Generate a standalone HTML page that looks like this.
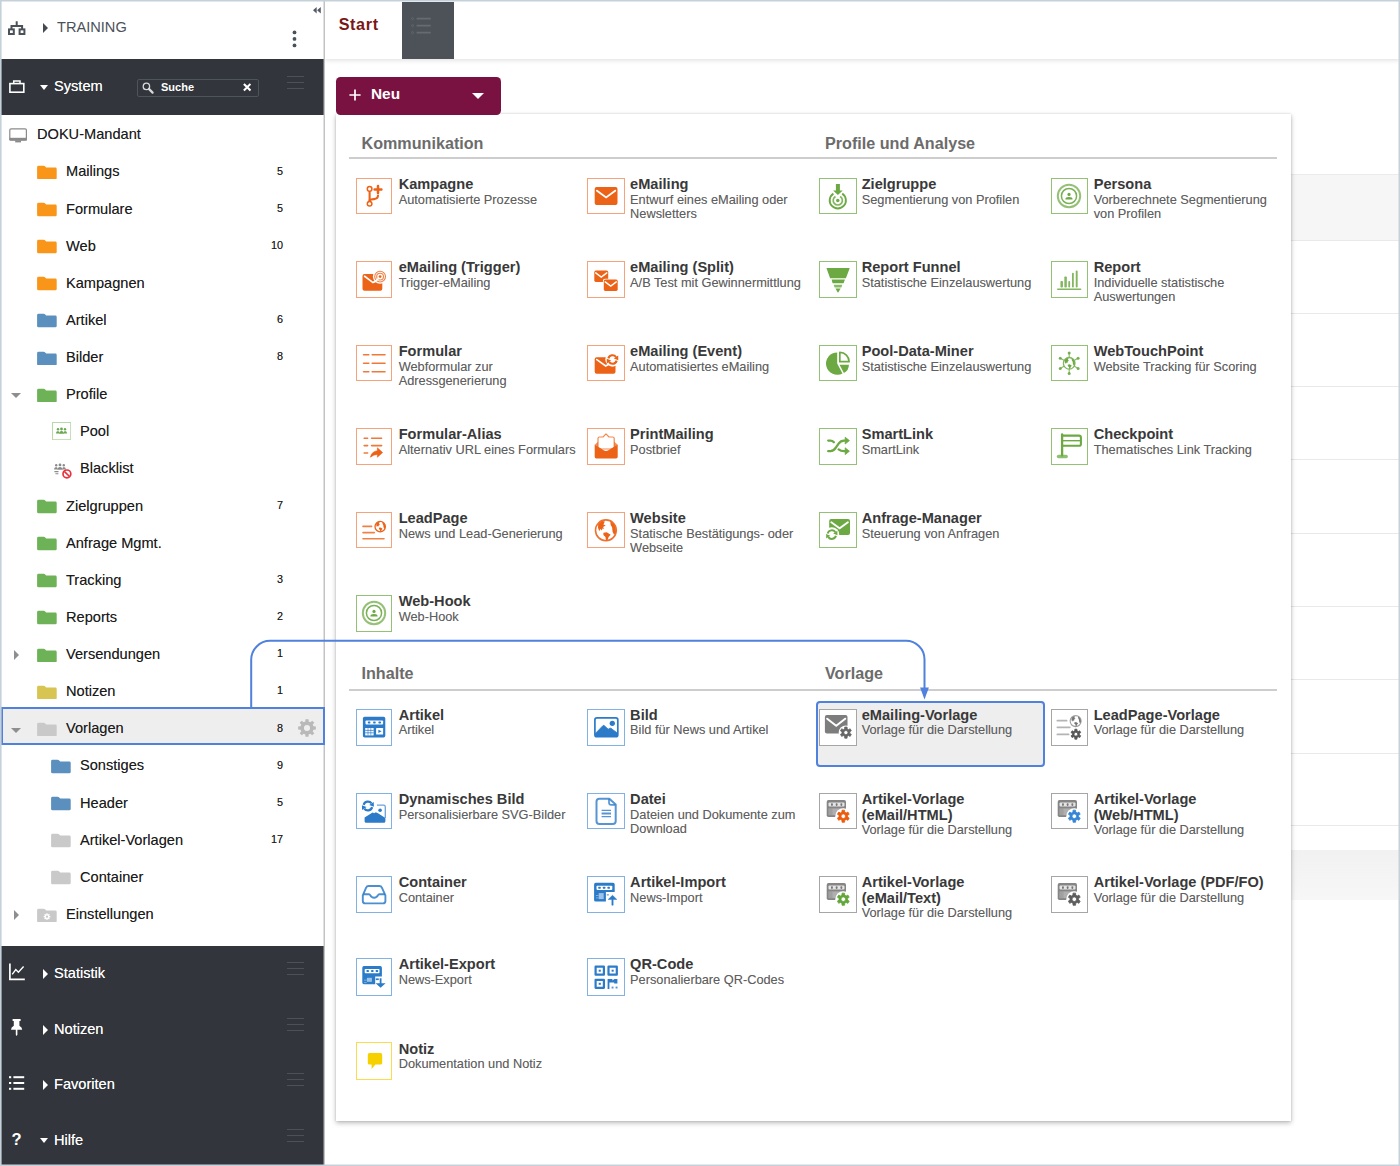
<!DOCTYPE html><html lang="de"><head><meta charset="utf-8"><title>Start</title><style>
*{box-sizing:border-box;margin:0;padding:0}
html,body{width:1400px;height:1166px;overflow:hidden;background:#fff}
body{font-family:"Liberation Sans",Arial,Helvetica,sans-serif;position:relative;color:#222}
.abs{position:absolute}
#frame{position:absolute;left:0;top:0;width:1400px;height:1166px;border:1.5px solid #c6d2da;z-index:50;pointer-events:none}
#side{position:absolute;left:0;top:0;width:324px;height:1166px;background:#fff}
#sideline{position:absolute;left:323.4px;top:0;width:1.5px;height:1166px;background:#c3c3c3}
.dark{position:absolute;left:0;width:323.5px;background:#32353b}
.dk{position:absolute;color:#fff;font-size:14.6px;line-height:18px;white-space:nowrap;text-shadow:0 0 .6px rgba(255,255,255,.75)}
.tr{position:absolute;font-size:14.6px;line-height:18px;color:#1c1c1c;white-space:nowrap;text-shadow:0 0 .4px rgba(0,0,0,.45)}
.cnt{position:absolute;width:40px;text-align:right;font-size:10.8px;line-height:14px;color:#1c1c1c;text-shadow:0 0 .4px rgba(0,0,0,.5)}
.ham{position:absolute;width:17px;height:13px}
.ham i{position:absolute;left:0;width:17px;height:1.5px;background:#4c5158}
#tabbar{position:absolute;left:325px;top:0;width:1075px;height:59.2px;background:#fff;box-shadow:0 1px 5px rgba(0,0,0,.14)}
#start{position:absolute;left:338.7px;top:12.8px;font-size:16.2px;font-weight:bold;color:#7a1616;line-height:22px;letter-spacing:.62px}
#tab2{position:absolute;left:402.2px;top:1.6px;width:51.8px;height:57.3px;background:#4c5258}
#neu{position:absolute;left:335.8px;top:76.8px;width:164.9px;height:37.8px;background:#7a1241;border-radius:4.5px;color:#fff}
#panel{position:absolute;left:336px;top:114px;width:955.4px;height:1007.4px;background:#fff;box-shadow:0 2px 5px rgba(0,0,0,.27),0 0 2px rgba(0,0,0,.14)}
.h{position:absolute;font-size:16.15px;font-weight:bold;color:#6c6c6c;line-height:20px;white-space:nowrap}
.hr{position:absolute;height:1.6px;background:#cdcdcd}
.ib{position:absolute;height:36.8px;border:1.1px solid;background:#fff}
.ib svg{position:absolute;top:.3px;width:34px;height:34px}
.t{position:absolute;white-space:nowrap}
.t b{display:block;font-size:14.6px;line-height:15.55px;color:#393939;font-weight:bold}
.t span{display:block;font-size:12.78px;line-height:14.4px;color:#606060;text-shadow:0 0 .5px rgba(60,60,60,.35)}
.row{position:absolute;left:1291px;width:107.5px}
</style></head><body>
<div class="row" style="top:174px;height:66.5px;background:#f6f6f6;border-top:1px solid #ebebeb;border-bottom:1px solid #e9e9e9"></div>
<div class="row" style="top:312.5px;height:1px;background:#e9e9e9"></div>
<div class="row" style="top:385.5px;height:1px;background:#e9e9e9"></div>
<div class="row" style="top:458.5px;height:1px;background:#e9e9e9"></div>
<div class="row" style="top:532.5px;height:1px;background:#e9e9e9"></div>
<div class="row" style="top:605.5px;height:1px;background:#e9e9e9"></div>
<div class="row" style="top:678.5px;height:1px;background:#e9e9e9"></div>
<div class="row" style="top:752.5px;height:1px;background:#e9e9e9"></div>
<div class="row" style="top:824.5px;height:1px;background:#e9e9e9"></div>
<div class="row" style="top:850px;height:50px;background:linear-gradient(#f1f1f1,#f7f7f7)"></div>
<div id="tabbar"></div><div id="start">Start</div><div id="tab2"><svg class="abs" style="left:8.6px;top:15.4px;" width="21" height="18" viewBox="0 0 21 18"><g stroke="#656b71" stroke-width="1.6" fill="none"><path d="M5.6 1.6H19.8M5.6 8.6H19.8M5.6 15.6H19.8"/></g><g fill="none" stroke="#656b71" stroke-width=".8"><circle cx="1.5" cy="1.6" r="1"/><circle cx="1.5" cy="8.6" r="1"/><circle cx="1.5" cy="15.6" r="1"/></g></svg></div>
<div id="side"></div>
<svg class="abs" style="left:8px;top:21px;" width="18" height="14.5" viewBox="0 0 18 14.5"><g fill="none" stroke="#4b5159" stroke-width="2"><path d="M8.7 .2V4.9M3.5 8.4V4.9H14.1V8.4"/><rect x="1" y="8.4" width="4.8" height="4.6"/><rect x="11.6" y="8.4" width="4.8" height="4.6"/></g></svg>
<div class="abs" style="left:42.5px;top:22.5px;width:0;height:0;border-left:5.5px solid #444a52;border-top:5px solid transparent;border-bottom:5px solid transparent"></div>
<div class="abs" style="left:57px;top:18.4px;font-size:14.6px;line-height:18px;color:#4b5159;white-space:nowrap">TRAINING</div>
<svg class="abs" style="left:313px;top:7px;" width="8.2" height="6.6" viewBox="0 0 8.2 6.6"><path d="M3.7 0V6.6L0 3.3ZM7.8 0V6.6L4.1 3.3Z" fill="#555b63"/></svg>
<svg class="abs" style="left:292.2px;top:30.2px;" width="5" height="18" viewBox="0 0 5 18"><g fill="#4b5159"><circle cx="2.5" cy="2.4" r="1.9"/><circle cx="2.5" cy="8.9" r="1.9"/><circle cx="2.5" cy="15.4" r="1.9"/></g></svg>
<div class="dark" style="top:59px;height:55.5px"></div>
<svg class="abs" style="left:9px;top:79.5px;" width="16" height="14" viewBox="0 0 16 14"><g fill="none" stroke="#fff" stroke-width="1.6"><rect x=".9" y="3.6" width="13.9" height="8.6"/><path d="M4.7 3.6V.9H11V3.6" stroke-width="1.5"/></g></svg>
<div class="abs" style="left:40px;top:85px;width:0;height:0;border-top:5px solid #fff;border-left:4.6px solid transparent;border-right:4.6px solid transparent"></div>
<div class="dk" style="left:54px;top:77.4px">System</div>
<div class="abs" style="left:137px;top:79px;width:121.5px;height:17.5px;border:1px solid #4e545b;border-radius:2px"></div>
<svg class="abs" style="left:142px;top:82px;" width="13" height="13" viewBox="0 0 13 13"><g fill="none" stroke="#d7d9db"><circle cx="4.4" cy="4.4" r="3.2" stroke-width="1.3"/><path d="M6.9 6.9L10.6 10.6" stroke-width="2.2" stroke-linecap="round"/></g></svg>
<div class="abs" style="left:161px;top:79.9px;font-size:11px;font-weight:bold;color:#fff;line-height:14px">Suche</div>
<svg class="abs" style="left:242.8px;top:83.2px;" width="8.4" height="8.4" viewBox="0 0 8.4 8.4"><path d="M.9 .9L7.5 7.5M7.5 .9L.9 7.5" stroke="#fff" stroke-width="2.1" fill="none"/></svg>
<div class="ham" style="left:287px;top:75.8px"><i style="top:0"></i><i style="top:6px"></i><i style="top:12px"></i></div>
<svg class="abs" style="left:9px;top:126.5px;" width="19" height="17" viewBox="0 0 19 17"><g><rect x=".8" y="1.8" width="16.6" height="11.4" rx="1.3" fill="#fff" stroke="#8b8b8b" stroke-width="1.2"/><rect x=".3" y="10.8" width="17.7" height="2.6" fill="#8b8b8b"/><rect x="6.2" y="13.4" width="5.8" height="2" fill="#8b8b8b"/></g></svg>
<div class="tr" style="left:37px;top:125.0px">DOKU-Mandant</div>
<div class="abs" style="left:1px;top:707.2px;width:324px;height:37.6px;background:#eeeeee"></div>
<svg class="abs" style="left:37.2px;top:164.93px;" width="20" height="14.5" viewBox="0 0 20 14.5"><path d="M1.5 .8H6.6Q7.6 .8 8.2 1.6L9.2 2.6H18.3Q19.7 2.6 19.7 4V12.9Q19.7 14.3 18.3 14.3H1.5Q.1 14.3 .1 12.9V2.2Q.1 .8 1.5 .8Z" fill="#f9961a"/></svg>
<div class="tr" style="left:66px;top:162.3px">Mailings</div>
<div class="cnt" style="left:243px;top:163.5px">5</div>
<svg class="abs" style="left:37.2px;top:202.06px;" width="20" height="14.5" viewBox="0 0 20 14.5"><path d="M1.5 .8H6.6Q7.6 .8 8.2 1.6L9.2 2.6H18.3Q19.7 2.6 19.7 4V12.9Q19.7 14.3 18.3 14.3H1.5Q.1 14.3 .1 12.9V2.2Q.1 .8 1.5 .8Z" fill="#f9961a"/></svg>
<div class="tr" style="left:66px;top:199.5px">Formulare</div>
<div class="cnt" style="left:243px;top:200.7px">5</div>
<svg class="abs" style="left:37.2px;top:239.19px;" width="20" height="14.5" viewBox="0 0 20 14.5"><path d="M1.5 .8H6.6Q7.6 .8 8.2 1.6L9.2 2.6H18.3Q19.7 2.6 19.7 4V12.9Q19.7 14.3 18.3 14.3H1.5Q.1 14.3 .1 12.9V2.2Q.1 .8 1.5 .8Z" fill="#f9961a"/></svg>
<div class="tr" style="left:66px;top:236.6px">Web</div>
<div class="cnt" style="left:243px;top:237.8px">10</div>
<svg class="abs" style="left:37.2px;top:276.32px;" width="20" height="14.5" viewBox="0 0 20 14.5"><path d="M1.5 .8H6.6Q7.6 .8 8.2 1.6L9.2 2.6H18.3Q19.7 2.6 19.7 4V12.9Q19.7 14.3 18.3 14.3H1.5Q.1 14.3 .1 12.9V2.2Q.1 .8 1.5 .8Z" fill="#f9961a"/></svg>
<div class="tr" style="left:66px;top:273.7px">Kampagnen</div>
<svg class="abs" style="left:37.2px;top:313.45px;" width="20" height="14.5" viewBox="0 0 20 14.5"><path d="M1.5 .8H6.6Q7.6 .8 8.2 1.6L9.2 2.6H18.3Q19.7 2.6 19.7 4V12.9Q19.7 14.3 18.3 14.3H1.5Q.1 14.3 .1 12.9V2.2Q.1 .8 1.5 .8Z" fill="#5b8fbe"/></svg>
<div class="tr" style="left:66px;top:310.8px">Artikel</div>
<div class="cnt" style="left:243px;top:312.0px">6</div>
<svg class="abs" style="left:37.2px;top:350.58px;" width="20" height="14.5" viewBox="0 0 20 14.5"><path d="M1.5 .8H6.6Q7.6 .8 8.2 1.6L9.2 2.6H18.3Q19.7 2.6 19.7 4V12.9Q19.7 14.3 18.3 14.3H1.5Q.1 14.3 .1 12.9V2.2Q.1 .8 1.5 .8Z" fill="#5b8fbe"/></svg>
<div class="tr" style="left:66px;top:348.0px">Bilder</div>
<div class="cnt" style="left:243px;top:349.2px">8</div>
<svg class="abs" style="left:37.2px;top:387.71px;" width="20" height="14.5" viewBox="0 0 20 14.5"><path d="M1.5 .8H6.6Q7.6 .8 8.2 1.6L9.2 2.6H18.3Q19.7 2.6 19.7 4V12.9Q19.7 14.3 18.3 14.3H1.5Q.1 14.3 .1 12.9V2.2Q.1 .8 1.5 .8Z" fill="#6eb257"/></svg>
<div class="tr" style="left:66px;top:385.1px">Profile</div>
<div class="abs" style="left:10.5px;top:393.3px;width:0;height:0;border-top:5.2px solid #8e8e8e;border-left:5px solid transparent;border-right:5px solid transparent"></div>
<svg class="abs" style="left:51.9px;top:422.44px;" width="19" height="18" viewBox="0 0 19 18"><rect x=".5" y=".5" width="18.2" height="17.2" fill="#fff" stroke="#b9d9a9" stroke-width="1"/><g fill="#6aa84f"><circle cx="6" cy="7.3" r="1.2"/><circle cx="9.5" cy="7" r="1.4"/><circle cx="13" cy="7.3" r="1.2"/><path d="M3.9 11.6Q3.9 9 6 9Q7.4 9 7.4 11.6ZM7.2 11.8Q7.2 8.9 9.5 8.9Q11.8 8.9 11.8 11.8ZM11.6 11.6Q11.6 9 13 9Q15.1 9 15.1 11.6Z"/></g></svg>
<div class="tr" style="left:80px;top:422.2px">Pool</div>
<svg class="abs" style="left:53px;top:461.57px;" width="19" height="17" viewBox="0 0 19 17"><g fill="#8a8a8a"><circle cx="3.2" cy="3.2" r="1.2"/><circle cx="7" cy="2.9" r="1.4"/><circle cx="10.8" cy="3.2" r="1.2"/><path d="M1 7.6Q1 5 3.2 5Q4.8 5 4.8 7.6ZM4.6 7.8Q4.6 4.9 7 4.9Q9.4 4.9 9.4 7.8ZM9.2 7.6Q9.2 5 10.8 5Q13 5 13 7.6Z"/><path d="M1.4 9H5.5V10.2H1.4ZM2.4 11.2H5.4V12.3H2.4Z"/></g><circle cx="13.9" cy="11.9" r="3.9" fill="#fff" stroke="#e8333f" stroke-width="1.7"/><path d="M11.3 9.3L16.5 14.5" stroke="#e8333f" stroke-width="1.7"/></svg>
<div class="tr" style="left:80px;top:459.4px">Blacklist</div>
<svg class="abs" style="left:37.2px;top:499.1px;" width="20" height="14.5" viewBox="0 0 20 14.5"><path d="M1.5 .8H6.6Q7.6 .8 8.2 1.6L9.2 2.6H18.3Q19.7 2.6 19.7 4V12.9Q19.7 14.3 18.3 14.3H1.5Q.1 14.3 .1 12.9V2.2Q.1 .8 1.5 .8Z" fill="#6eb257"/></svg>
<div class="tr" style="left:66px;top:496.5px">Zielgruppen</div>
<div class="cnt" style="left:243px;top:497.7px">7</div>
<svg class="abs" style="left:37.2px;top:536.23px;" width="20" height="14.5" viewBox="0 0 20 14.5"><path d="M1.5 .8H6.6Q7.6 .8 8.2 1.6L9.2 2.6H18.3Q19.7 2.6 19.7 4V12.9Q19.7 14.3 18.3 14.3H1.5Q.1 14.3 .1 12.9V2.2Q.1 .8 1.5 .8Z" fill="#6eb257"/></svg>
<div class="tr" style="left:66px;top:533.6px">Anfrage Mgmt.</div>
<svg class="abs" style="left:37.2px;top:573.36px;" width="20" height="14.5" viewBox="0 0 20 14.5"><path d="M1.5 .8H6.6Q7.6 .8 8.2 1.6L9.2 2.6H18.3Q19.7 2.6 19.7 4V12.9Q19.7 14.3 18.3 14.3H1.5Q.1 14.3 .1 12.9V2.2Q.1 .8 1.5 .8Z" fill="#6eb257"/></svg>
<div class="tr" style="left:66px;top:570.8px">Tracking</div>
<div class="cnt" style="left:243px;top:572.0px">3</div>
<svg class="abs" style="left:37.2px;top:610.49px;" width="20" height="14.5" viewBox="0 0 20 14.5"><path d="M1.5 .8H6.6Q7.6 .8 8.2 1.6L9.2 2.6H18.3Q19.7 2.6 19.7 4V12.9Q19.7 14.3 18.3 14.3H1.5Q.1 14.3 .1 12.9V2.2Q.1 .8 1.5 .8Z" fill="#6eb257"/></svg>
<div class="tr" style="left:66px;top:607.9px">Reports</div>
<div class="cnt" style="left:243px;top:609.1px">2</div>
<svg class="abs" style="left:37.2px;top:647.62px;" width="20" height="14.5" viewBox="0 0 20 14.5"><path d="M1.5 .8H6.6Q7.6 .8 8.2 1.6L9.2 2.6H18.3Q19.7 2.6 19.7 4V12.9Q19.7 14.3 18.3 14.3H1.5Q.1 14.3 .1 12.9V2.2Q.1 .8 1.5 .8Z" fill="#6eb257"/></svg>
<div class="tr" style="left:66px;top:645.0px">Versendungen</div>
<div class="cnt" style="left:243px;top:646.2px">1</div>
<div class="abs" style="left:13.5px;top:649.6px;width:0;height:0;border-left:5.2px solid #8e8e8e;border-top:5px solid transparent;border-bottom:5px solid transparent"></div>
<svg class="abs" style="left:37.2px;top:684.75px;" width="20" height="14.5" viewBox="0 0 20 14.5"><path d="M1.5 .8H6.6Q7.6 .8 8.2 1.6L9.2 2.6H18.3Q19.7 2.6 19.7 4V12.9Q19.7 14.3 18.3 14.3H1.5Q.1 14.3 .1 12.9V2.2Q.1 .8 1.5 .8Z" fill="#d8c450"/></svg>
<div class="tr" style="left:66px;top:682.2px">Notizen</div>
<div class="cnt" style="left:243px;top:683.4px">1</div>
<svg class="abs" style="left:37.2px;top:721.88px;" width="20" height="14.5" viewBox="0 0 20 14.5"><path d="M1.5 .8H6.6Q7.6 .8 8.2 1.6L9.2 2.6H18.3Q19.7 2.6 19.7 4V12.9Q19.7 14.3 18.3 14.3H1.5Q.1 14.3 .1 12.9V2.2Q.1 .8 1.5 .8Z" fill="#c9c9c9"/></svg>
<div class="tr" style="left:66px;top:719.3px">Vorlagen</div>
<div class="cnt" style="left:243px;top:720.5px">8</div>
<div class="abs" style="left:10.5px;top:727.5px;width:0;height:0;border-top:5.2px solid #8e8e8e;border-left:5px solid transparent;border-right:5px solid transparent"></div>
<svg class="abs" style="left:51.2px;top:759.01px;" width="20" height="14.5" viewBox="0 0 20 14.5"><path d="M1.5 .8H6.6Q7.6 .8 8.2 1.6L9.2 2.6H18.3Q19.7 2.6 19.7 4V12.9Q19.7 14.3 18.3 14.3H1.5Q.1 14.3 .1 12.9V2.2Q.1 .8 1.5 .8Z" fill="#5b8fbe"/></svg>
<div class="tr" style="left:80px;top:756.4px">Sonstiges</div>
<div class="cnt" style="left:243px;top:757.6px">9</div>
<svg class="abs" style="left:51.2px;top:796.14px;" width="20" height="14.5" viewBox="0 0 20 14.5"><path d="M1.5 .8H6.6Q7.6 .8 8.2 1.6L9.2 2.6H18.3Q19.7 2.6 19.7 4V12.9Q19.7 14.3 18.3 14.3H1.5Q.1 14.3 .1 12.9V2.2Q.1 .8 1.5 .8Z" fill="#5b8fbe"/></svg>
<div class="tr" style="left:80px;top:793.5px">Header</div>
<div class="cnt" style="left:243px;top:794.7px">5</div>
<svg class="abs" style="left:51.2px;top:833.27px;" width="20" height="14.5" viewBox="0 0 20 14.5"><path d="M1.5 .8H6.6Q7.6 .8 8.2 1.6L9.2 2.6H18.3Q19.7 2.6 19.7 4V12.9Q19.7 14.3 18.3 14.3H1.5Q.1 14.3 .1 12.9V2.2Q.1 .8 1.5 .8Z" fill="#c9c9c9"/></svg>
<div class="tr" style="left:80px;top:830.7px">Artikel-Vorlagen</div>
<div class="cnt" style="left:243px;top:831.9px">17</div>
<svg class="abs" style="left:51.2px;top:870.4px;" width="20" height="14.5" viewBox="0 0 20 14.5"><path d="M1.5 .8H6.6Q7.6 .8 8.2 1.6L9.2 2.6H18.3Q19.7 2.6 19.7 4V12.9Q19.7 14.3 18.3 14.3H1.5Q.1 14.3 .1 12.9V2.2Q.1 .8 1.5 .8Z" fill="#c9c9c9"/></svg>
<div class="tr" style="left:80px;top:867.8px">Container</div>
<svg class="abs" style="left:37.2px;top:907.53px;" width="20" height="14.5" viewBox="0 0 20 14.5"><path d="M1.5 .8H6.6Q7.6 .8 8.2 1.6L9.2 2.6H18.3Q19.7 2.6 19.7 4V12.9Q19.7 14.3 18.3 14.3H1.5Q.1 14.3 .1 12.9V2.2Q.1 .8 1.5 .8Z" fill="#c9c9c9"/><path fill-rule="evenodd" fill="#fff" d="M13.35 8.02 L13.35 9.18 L12.42 9.22 L12.15 9.87 L12.78 10.56 L11.96 11.38 L11.27 10.75 L10.62 11.02 L10.58 11.95 L9.42 11.95 L9.38 11.02 L8.73 10.75 L8.04 11.38 L7.22 10.56 L7.85 9.87 L7.58 9.22 L6.65 9.18 L6.65 8.02 L7.58 7.98 L7.85 7.33 L7.22 6.64 L8.04 5.82 L8.73 6.45 L9.38 6.18 L9.42 5.25 L10.58 5.25 L10.62 6.18 L11.27 6.45 L11.96 5.82 L12.78 6.64 L12.15 7.33 L12.42 7.98 Z M8.80 8.60 a1.20 1.20 0 1 0 2.40 0 a1.20 1.20 0 1 0 -2.40 0 Z"/></svg>
<div class="tr" style="left:66px;top:904.9px">Einstellungen</div>
<div class="abs" style="left:13.5px;top:909.5px;width:0;height:0;border-left:5.2px solid #8e8e8e;border-top:5px solid transparent;border-bottom:5px solid transparent"></div>
<svg class="abs" style="left:298px;top:719px;" width="18" height="18" viewBox="0 0 18 18"><path fill-rule="evenodd" fill="#b9b9b9" d="M17.87 7.45 L17.87 10.55 L15.45 10.66 L14.73 12.39 L16.36 14.18 L14.18 16.36 L12.39 14.73 L10.66 15.45 L10.55 17.87 L7.45 17.87 L7.34 15.45 L5.61 14.73 L3.82 16.36 L1.64 14.18 L3.27 12.39 L2.55 10.66 L0.13 10.55 L0.13 7.45 L2.55 7.34 L3.27 5.61 L1.64 3.82 L3.82 1.64 L5.61 3.27 L7.34 2.55 L7.45 0.13 L10.55 0.13 L10.66 2.55 L12.39 3.27 L14.18 1.64 L16.36 3.82 L14.73 5.61 L15.45 7.34 Z M5.94 9.00 a3.06 3.06 0 1 0 6.12 0 a3.06 3.06 0 1 0 -6.12 0 Z"/></svg>
<div class="dark" style="top:945.5px;height:221px"></div>
<div class="dk" style="left:54px;top:963.5px">Statistik</div>
<div class="abs" style="left:42.5px;top:968.5px;width:0;height:0;border-left:5.5px solid #fff;border-top:5px solid transparent;border-bottom:5px solid transparent"></div>
<svg class="abs" style="left:8px;top:963px;" width="18" height="18" viewBox="0 0 18 18"><g fill="none" stroke="#fff" stroke-width="1.7"><path d="M1.9 .5V16.4H16.8"/><path d="M4.2 11.4L7.8 6.6L10.4 9.2L15.6 3.6" stroke-width="1.4"/></g></svg>
<div class="ham" style="left:287px;top:961.5px"><i style="top:0"></i><i style="top:6px"></i><i style="top:12px"></i></div>
<div class="dk" style="left:54px;top:1019.5px">Notizen</div>
<div class="abs" style="left:42.5px;top:1024.5px;width:0;height:0;border-left:5.5px solid #fff;border-top:5px solid transparent;border-bottom:5px solid transparent"></div>
<svg class="abs" style="left:8px;top:1019px;" width="16" height="19" viewBox="0 0 16 19"><path d="M4.6 0H12.6V1.9H11.4V6.8Q14.2 8.2 14.2 10.8H9.4V15.8L8.6 17L7.8 15.8V10.8H3Q3 8.2 5.8 6.8V1.9H4.6Z" fill="#fff"/></svg>
<div class="ham" style="left:287px;top:1017.5px"><i style="top:0"></i><i style="top:6px"></i><i style="top:12px"></i></div>
<div class="dk" style="left:54px;top:1074.8px">Favoriten</div>
<div class="abs" style="left:42.5px;top:1079.8px;width:0;height:0;border-left:5.5px solid #fff;border-top:5px solid transparent;border-bottom:5px solid transparent"></div>
<svg class="abs" style="left:9.2px;top:1074.7px;" width="16" height="17" viewBox="0 0 16 17"><g fill="#fff"><rect x="0" y="1.2" width="2.2" height="2"/><rect x="0" y="7" width="2.2" height="2"/><rect x="0" y="12.8" width="2.2" height="2"/><rect x="4.4" y="1.2" width="10.8" height="2"/><rect x="4.4" y="7" width="10.8" height="2"/><rect x="4.4" y="12.8" width="10.8" height="2"/></g></svg>
<div class="ham" style="left:287px;top:1072.8px"><i style="top:0"></i><i style="top:6px"></i><i style="top:12px"></i></div>
<div class="dk" style="left:54px;top:1130.7px">Hilfe</div>
<div class="abs" style="left:40px;top:1137.7px;width:0;height:0;border-top:5px solid #fff;border-left:4.6px solid transparent;border-right:4.6px solid transparent"></div>
<div class="abs" style="left:7.5px;top:1128.8px;color:#fff;font-size:16.5px;font-weight:bold;line-height:20px;width:18px;text-align:center">?</div>
<div class="ham" style="left:287px;top:1128.7px"><i style="top:0"></i><i style="top:6px"></i><i style="top:12px"></i></div>
<svg class="abs" style="left:320px;top:0" width="8" height="1166" viewBox="0 0 8 1166"><rect x="3.55" y="0" width="1.35" height="1166" fill="#bdbdbd"/></svg>
<div class="abs" style="left:0.5px;top:707.1px;width:324.5px;height:37.9px;border:2px solid #4f81dd"></div>
<div id="panel"></div>
<div id="neu"></div>
<svg class="abs" style="left:348.5px;top:89px" width="12" height="12" viewBox="0 0 12 12"><path d="M6 .4V11.6M.4 6H11.6" stroke="#fff" stroke-width="1.7" fill="none"/></svg>
<div class="abs" style="left:371px;top:84.3px;font-size:15.4px;font-weight:bold;color:#fff;line-height:20px">Neu</div>
<div class="abs" style="left:472.3px;top:92.9px;width:0;height:0;border-top:6.6px solid #fff;border-left:6.3px solid transparent;border-right:6.3px solid transparent"></div>
<div class="h" style="left:361.5px;top:132.6px">Kommunikation</div>
<div class="h" style="left:825px;top:132.6px">Profile und Analyse</div>
<div class="hr" style="left:349.3px;top:157.2px;width:928px"></div>
<div class="h" style="left:361.5px;top:663.4px">Inhalte</div>
<div class="h" style="left:825px;top:663.4px">Vorlage</div>
<div class="hr" style="left:349.3px;top:689.2px;width:928px"></div>
<div class="abs" style="left:816px;top:701px;width:228.6px;height:65.6px;background:#eeeeee;border:2px solid #4f81dd;border-radius:4px"></div>
<div class="ib" style="left:356.0px;top:178.0px;width:36.0px;height:36.0px;border-color:#f5a37a"><svg style="top:-0.10px;left:-0.10px" viewBox="0 0 34 34"><g fill="none" stroke="#ec6216"><circle cx="12.6" cy="9.9" r="2.3" stroke-width="1.5"/><circle cx="12.6" cy="24.8" r="2.3" stroke-width="1.5"/><path d="M12.6 12.2V22.5" stroke-width="2.1"/><path d="M12.6 21.4Q13.4 20.4 17 20.1Q21 19.7 21 16.6" stroke-width="2.1" stroke-linecap="round"/></g><path d="M21 7.1V13.9M17.6 10.5H24.4" stroke="#ec6216" stroke-width="2.5" stroke-linecap="round" fill="none"/></svg></div>
<div class="t" style="left:398.7px;top:177.1px"><b>Kampagne</b><span>Automatisierte Prozesse</span></div>
<div class="ib" style="left:356.0px;top:261.0px;width:36.0px;height:37.2px;border-color:#f5a37a"><svg style="top:0.50px;left:-0.10px" viewBox="0 0 34 34"><rect x="5.5" y="11" width="19.8" height="16.7" rx="2" fill="#ec6216"/><path d="M7.6 13.3L16 19.6L26.9 13.2" fill="none" stroke="#fff" stroke-width="1.7" stroke-linecap="round"/><circle cx="23.1" cy="13.6" r="7.2" fill="#fff"/><g fill="none" stroke="#ec6216" stroke-opacity=".8"><circle cx="23.1" cy="13.6" r="5.4" stroke-width="1.1"/><circle cx="23.1" cy="13.6" r="3.4" stroke-width="1.1"/></g><circle cx="23.1" cy="13.6" r="1.4" fill="#ec6216"/><path d="M17.6 18.8L21.6 15.4" stroke="#fff" stroke-width="1.7" stroke-linecap="round"/></svg></div>
<div class="t" style="left:398.7px;top:260.1px"><b>eMailing (Trigger)</b><span>Trigger-eMailing</span></div>
<div class="ib" style="left:356.0px;top:345.3px;width:36.0px;height:35.9px;border-color:#f5a37a"><svg style="top:-0.15px;left:-0.10px" viewBox="0 0 34 34"><g stroke="#ec6216" stroke-opacity=".85" stroke-width="1.6" stroke-linecap="round" fill="none"><path d="M6.6 8.7H11.8M15.2 8.7H28"/><path d="M6.6 17.2H11.8M15.2 17.2H28"/><path d="M6.6 25.7H11.8M15.2 25.7H28"/></g></svg></div>
<div class="t" style="left:398.7px;top:344.4px"><b>Formular</b><span>Webformular zur<br>Adressgenerierung</span></div>
<div class="ib" style="left:356.0px;top:428.0px;width:36.0px;height:37.0px;border-color:#f5a37a"><svg style="top:0.40px;left:-0.10px" viewBox="0 0 34 34"><g stroke="#ec6216" stroke-opacity=".85" stroke-width="1.6" stroke-linecap="round" fill="none"><path d="M7.2 9.2H10.6M14.6 9.2H24.6M7.2 16.6H10.6M14.6 16.6H24.6M7.2 24H10.6"/></g><path d="M13.4 28.2Q14.6 22.4 20.4 21.8V18.8L25.6 23.6L20.4 28.2V25.4Q16.6 25.4 13.4 28.2Z" fill="#ec6216" stroke="#ec6216" stroke-width=".6" stroke-linejoin="round"/></svg></div>
<div class="t" style="left:398.7px;top:427.1px"><b>Formular-Alias</b><span>Alternativ URL eines Formulars</span></div>
<div class="ib" style="left:356.0px;top:512.1px;width:36.0px;height:35.9px;border-color:#f5a37a"><svg style="top:-0.15px;left:-0.10px" viewBox="0 0 34 34"><g stroke="#ec6216" stroke-opacity=".8" stroke-width="1.6" stroke-linecap="round" fill="none"><path d="M6 13.4H14.6M6 19.6H17.4M6 25.8H27"/></g><circle cx="23.2" cy="13.6" r="5.2" fill="#fff" stroke="#ec6216" stroke-width="1.3" stroke-opacity="1"/><path d="M19.35 10.48 21.33 8.92 22.68 9.23 21.95 10.69 23.10 11.21 21.74 11.94 22.37 12.87 21.43 12.66 21.22 13.70 20.39 12.98 19.87 14.12 19.25 12.35 Z" fill="#ec6216"/><path d="M21.95 14.85 23.62 14.54 25.59 15.78 24.55 16.93 24.03 18.49 23.20 18.70 22.99 16.93 21.95 15.99 Z" fill="#ec6216"/><path d="M25.38 9.13 27.15 10.48 28.09 12.35 28.19 14.43 27.36 15.89 26.53 14.33 26.32 12.25 25.59 11.00 Z" fill="#ec6216"/></svg></div>
<div class="t" style="left:398.7px;top:511.2px"><b>LeadPage</b><span>News und Lead-Generierung</span></div>
<div class="ib" style="left:356.0px;top:595.0px;width:36.0px;height:37.0px;border-color:#93c276"><svg style="top:0.40px;left:-0.10px" viewBox="0 0 34 34"><g fill="none" stroke="#6ca943"><circle cx="17" cy="17" r="11.2" stroke-width="2" stroke-opacity=".72"/><circle cx="17" cy="17" r="7.6" stroke-width="1.5" stroke-opacity=".9"/></g><circle cx="17" cy="15.4" r="1.6" fill="#6ca943"/><path d="M13.4 20.4Q13.4 18 17 18Q20.6 18 20.6 20.4Z" fill="#6ca943"/></svg></div>
<div class="t" style="left:398.7px;top:594.1px"><b>Web-Hook</b><span>Web-Hook</span></div>
<div class="ib" style="left:587.4px;top:178.0px;width:37.5px;height:36.0px;border-color:#f5a37a"><svg style="top:-0.10px;left:0.65px" viewBox="0 0 34 34"><rect x="5.7" y="8.1" width="22.8" height="17.8" rx="2" fill="#ec6216"/><path d="M7.98 11.66L17.1 18.424L26.22 11.66" fill="none" stroke="#fff" stroke-width="1.9" stroke-linecap="round"/></svg></div>
<div class="t" style="left:630.1px;top:177.1px"><b>eMailing</b><span>Entwurf eines eMailing oder<br>Newsletters</span></div>
<div class="ib" style="left:587.4px;top:261.0px;width:37.5px;height:37.2px;border-color:#f5a37a"><svg style="top:0.50px;left:0.65px" viewBox="0 0 34 34"><rect x="5.3" y="7.6" width="13.9" height="11.3" rx="1.6" fill="#ec6216"/><path d="M6.69 9.86L12.25 14.154L17.81 9.86" fill="none" stroke="#fff" stroke-width="1.4" stroke-linecap="round"/><rect x="13.9" y="15.7" width="15.7" height="13.1" rx="2.2" fill="#fff"/><rect x="14.8" y="16.6" width="13.9" height="11.3" rx="1.6" fill="#ec6216"/><path d="M16.19 18.86L21.75 23.154L27.31 18.86" fill="none" stroke="#fff" stroke-width="1.4" stroke-linecap="round"/></svg></div>
<div class="t" style="left:630.1px;top:260.1px"><b>eMailing (Split)</b><span>A/B Test mit Gewinnermittlung</span></div>
<div class="ib" style="left:587.4px;top:345.3px;width:37.5px;height:35.9px;border-color:#f5a37a"><svg style="top:-0.15px;left:0.65px" viewBox="0 0 34 34"><rect x="5.7" y="11.3" width="20.8" height="16.5" rx="2" fill="#ec6216"/><path d="M7.8 13.6L16.7 19.9L28.1 13.5" fill="none" stroke="#fff" stroke-width="1.7" stroke-linecap="round"/><circle cx="23.5" cy="13.5" r="7.2" fill="#fff"/><g fill="none" stroke="#ec6216" stroke-width="2.1"><path d="M19.35 12.39A4.3 4.3 0 0 1 27.02 11.03"/><path d="M27.65 14.61A4.3 4.3 0 0 1 19.98 15.97"/></g><path d="M29.17 9.53L24.87 12.54L29.28 14.26Z" fill="#ec6216"/><path d="M17.83 17.47L22.13 14.46L17.72 12.74Z" fill="#ec6216"/></svg></div>
<div class="t" style="left:630.1px;top:344.4px"><b>eMailing (Event)</b><span>Automatisiertes eMailing</span></div>
<div class="ib" style="left:587.4px;top:428.0px;width:37.5px;height:37.0px;border-color:#f5a37a"><svg style="top:0.40px;left:0.65px" viewBox="0 0 34 34"><path d="M5.9 15.6L9.4 12.4V18.6Z M28.5 15.6L25 12.4V18.6Z" fill="#ec6216" fill-opacity=".7"/><path d="M10.4 8H14L17 4.9L20 8H23.6Q25.2 8 25.2 9.6V20H9V9.6Q9 8 10.4 8Z" fill="#fff" stroke="#ec6216" stroke-opacity=".75" stroke-width="1.2" stroke-linejoin="round"/><path d="M5.7 15.4L14.6 21.2Q17 22.8 19.4 21.2L28.7 15.4V27.8Q28.7 29.4 27.1 29.4H7.3Q5.7 29.4 5.7 27.8Z" fill="#ec6216"/></svg></div>
<div class="t" style="left:630.1px;top:427.1px"><b>PrintMailing</b><span>Postbrief</span></div>
<div class="ib" style="left:587.4px;top:512.1px;width:37.5px;height:35.9px;border-color:#f5a37a"><svg style="top:-0.15px;left:0.65px" viewBox="0 0 34 34"><circle cx="16.9" cy="17.3" r="10.4" fill="#fff" stroke="#ec6216" stroke-width="1.6" stroke-opacity="0.9"/><path d="M9.20 11.06 13.16 7.94 15.86 8.56 14.40 11.48 16.69 12.52 13.99 13.97 15.24 15.84 13.36 15.43 12.95 17.51 11.28 16.05 10.24 18.34 9.00 14.80 Z" fill="#ec6216"/><path d="M14.40 19.80 17.73 19.17 21.68 21.67 19.60 23.96 18.56 27.08 16.90 27.49 16.48 23.96 14.40 22.08 Z" fill="#ec6216"/><path d="M21.27 8.36 24.80 11.06 26.68 14.80 26.88 18.96 25.22 21.88 23.56 18.76 23.14 14.60 21.68 12.10 Z" fill="#ec6216"/></svg></div>
<div class="t" style="left:630.1px;top:511.2px"><b>Website</b><span>Statische Bestätigungs- oder<br>Webseite</span></div>
<div class="ib" style="left:819.0px;top:178.0px;width:37.8px;height:36.0px;border-color:#93c276"><svg style="top:-0.10px;left:0.80px" viewBox="0 0 34 34"><g fill="none" stroke="#6ca943"><path d="M12.4 14.6A8.1 8.1 0 1 0 21.2 14.6" stroke-width="1.9"/><path d="M14.5 17.4A4.6 4.6 0 1 0 19.1 17.4" stroke-width="1.7" stroke-opacity=".85"/></g><circle cx="16.8" cy="21.5" r="1.7" fill="#6ca943"/><path d="M14.9 5H18.9V11.4H21.7L16.9 16L12.1 11.4H14.9Z" fill="#6ca943"/></svg></div>
<div class="t" style="left:861.7px;top:177.1px"><b>Zielgruppe</b><span>Segmentierung von Profilen</span></div>
<div class="ib" style="left:819.0px;top:261.0px;width:37.8px;height:37.2px;border-color:#93c276"><svg style="top:0.50px;left:0.80px" viewBox="0 0 34 34"><g fill="#6ca943"><path d="M5.6 5.6Q5 5.2 5.8 5.1H28.2Q29 5.2 28.4 5.9L24.9 15.3H9.1Z"/><path d="M10.6 16.6H23.9L22.6 20.2H11.6Z"/><path d="M12.7 21.7H21.3L20.4 24.4H13.6Z" fill-opacity=".8"/><path d="M14.5 25.6H19.6L17.4 29.2Q17 29.7 16.6 29.2Z"/></g></svg></div>
<div class="t" style="left:861.7px;top:260.1px"><b>Report Funnel</b><span>Statistische Einzelauswertung</span></div>
<div class="ib" style="left:819.0px;top:345.3px;width:37.8px;height:35.9px;border-color:#93c276"><svg style="top:-0.15px;left:0.80px" viewBox="0 0 34 34"><path d="M16.2 17.6L16.2 6.4A11.2 11.2 0 1 0 21.46 27.49Z" fill="#6ca943"/><path d="M18.5 18.8H27.9A9.4 9.4 0 0 1 22.91 27.10Z" fill="#6ca943"/><path d="M18.8 15.7V6.4A9.3 9.3 0 0 1 28.1 15.7Z" fill="#fff" stroke="#6ca943" stroke-width="1.7" stroke-linejoin="round"/></svg></div>
<div class="t" style="left:861.7px;top:344.4px"><b>Pool-Data-Miner</b><span>Statistische Einzelauswertung</span></div>
<div class="ib" style="left:819.0px;top:428.0px;width:37.8px;height:37.0px;border-color:#93c276"><svg style="top:0.40px;left:0.80px" viewBox="0 0 34 34"><g fill="none" stroke="#6ca943" stroke-width="2.3" stroke-linecap="round"><path d="M7.2 22.2H9.4Q12.6 22.2 15 18.4L17.6 14.6Q19.8 11.6 23 11.6H24.8"/><path d="M7.2 11.6H9.4Q11.4 11.6 12.9 13.2M17.6 20.4Q19.8 22.2 23 22.2H24.8"/></g><path d="M24.2 8.2L28.4 11.6L24.2 15ZM24.2 18.8L28.4 22.2L24.2 25.6Z" fill="#6ca943" stroke="#6ca943" stroke-width=".8" stroke-linejoin="round"/></svg></div>
<div class="t" style="left:861.7px;top:427.1px"><b>SmartLink</b><span>SmartLink</span></div>
<div class="ib" style="left:819.0px;top:512.1px;width:37.8px;height:35.9px;border-color:#93c276"><svg style="top:-0.15px;left:0.80px" viewBox="0 0 34 34"><rect x="8.2" y="6" width="20.8" height="16" rx="2" fill="#6ca943"/><path d="M10.28 9.2L18.6 15.28L26.92 9.2" fill="none" stroke="#fff" stroke-width="1.8" stroke-linecap="round"/><circle cx="10.8" cy="21.6" r="7.4" fill="#fff"/><g fill="none" stroke="#6ca943" stroke-width="2"><path d="M6.65 20.49A4.3 4.3 0 0 1 14.32 19.13"/><path d="M14.95 22.71A4.3 4.3 0 0 1 7.28 24.07"/></g><path d="M16.37 17.70L12.27 20.57L16.47 22.21Z" fill="#6ca943"/><path d="M5.23 25.50L9.33 22.63L5.13 20.99Z" fill="#6ca943"/></svg></div>
<div class="t" style="left:861.7px;top:511.2px"><b>Anfrage-Manager</b><span>Steuerung von Anfragen</span></div>
<div class="ib" style="left:1051.0px;top:178.0px;width:36.9px;height:36.0px;border-color:#93c276"><svg style="top:-0.10px;left:0.35px" viewBox="0 0 34 34"><g fill="none" stroke="#6ca943"><circle cx="17" cy="17" r="11.2" stroke-width="2" stroke-opacity=".72"/><circle cx="17" cy="17" r="7.6" stroke-width="1.5" stroke-opacity=".9"/></g><circle cx="17" cy="15.4" r="1.6" fill="#6ca943"/><path d="M13.4 20.4Q13.4 18 17 18Q20.6 18 20.6 20.4Z" fill="#6ca943"/></svg></div>
<div class="t" style="left:1093.7px;top:177.1px"><b>Persona</b><span>Vorberechnete Segmentierung<br>von Profilen</span></div>
<div class="ib" style="left:1051.0px;top:261.0px;width:36.9px;height:37.2px;border-color:#93c276"><svg style="top:0.50px;left:0.35px" viewBox="0 0 34 34"><g fill="#6ca943" fill-opacity=".85"><rect x="8.45" y="17.9" width="2.5" height="6.6" rx=".8"/><rect x="12.35" y="13.4" width="2.5" height="11.1" rx=".8"/><rect x="16.3" y="17.9" width="1.8" height="6.6" rx=".8"/><rect x="20" y="9.7" width="1.8" height="14.8" rx=".8"/><rect x="23.75" y="7.6" width="1.9" height="16.9" rx=".8"/><rect x="5" y="25.4" width="24.4" height="1.6" rx=".8"/></g></svg></div>
<div class="t" style="left:1093.7px;top:260.1px"><b>Report</b><span>Individuelle statistische<br>Auswertungen</span></div>
<div class="ib" style="left:1051.0px;top:345.3px;width:36.9px;height:35.9px;border-color:#93c276"><svg style="top:-0.15px;left:0.35px" viewBox="0 0 34 34"><path d="M17.20 23.30L17.20 27.60" stroke="#6ca943" stroke-opacity=".8" stroke-width="1.1"/><circle cx="17.20" cy="27.60" r="1.5" fill="#6ca943" fill-opacity=".9"/><path d="M12.00 20.30L8.28 22.45" stroke="#6ca943" stroke-opacity=".8" stroke-width="1.1"/><circle cx="8.28" cy="22.45" r="1.5" fill="#6ca943" fill-opacity=".9"/><path d="M12.00 14.30L8.28 12.15" stroke="#6ca943" stroke-opacity=".8" stroke-width="1.1"/><circle cx="8.28" cy="12.15" r="1.5" fill="#6ca943" fill-opacity=".9"/><path d="M17.20 11.30L17.20 7.00" stroke="#6ca943" stroke-opacity=".8" stroke-width="1.1"/><circle cx="17.20" cy="7.00" r="1.5" fill="#6ca943" fill-opacity=".9"/><path d="M22.40 14.30L26.12 12.15" stroke="#6ca943" stroke-opacity=".8" stroke-width="1.1"/><circle cx="26.12" cy="12.15" r="1.5" fill="#6ca943" fill-opacity=".9"/><path d="M22.40 20.30L26.12 22.45" stroke="#6ca943" stroke-opacity=".8" stroke-width="1.1"/><circle cx="26.12" cy="22.45" r="1.5" fill="#6ca943" fill-opacity=".9"/><circle cx="17.2" cy="17.3" r="5.8" fill="#fff" stroke="#6ca943" stroke-width="1.3" stroke-opacity="0.85"/><path d="M12.91 13.82 15.11 12.08 16.62 12.43 15.81 14.05 17.08 14.63 15.58 15.44 16.27 16.49 15.23 16.26 15.00 17.42 14.07 16.60 13.49 17.88 12.79 15.91 Z" fill="#6ca943"/><path d="M15.81 18.69 17.66 18.34 19.87 19.74 18.71 21.01 18.13 22.75 17.20 22.98 16.97 21.01 15.81 19.97 Z" fill="#6ca943"/><path d="M19.64 12.31 21.61 13.82 22.65 15.91 22.77 18.23 21.84 19.85 20.91 18.11 20.68 15.79 19.87 14.40 Z" fill="#6ca943"/></svg></div>
<div class="t" style="left:1093.7px;top:344.4px"><b>WebTouchPoint</b><span>Website Tracking für Scoring</span></div>
<div class="ib" style="left:1051.0px;top:428.0px;width:36.9px;height:37.0px;border-color:#93c276"><svg style="top:0.40px;left:0.35px" viewBox="0 0 34 34"><g fill="none" stroke="#6ca943"><path d="M10.1 5.4V26.6" stroke-width="2.3" stroke-linecap="round"/><path d="M10.1 6.6H27Q28.9 6.6 28.9 8.5V14.9Q28.9 16.8 27 16.8H10.1" stroke-width="2.1"/><path d="M10.1 11.7H28.6" stroke-width="1.4"/></g><rect x="4.8" y="25.7" width="11.1" height="3.5" rx="1.7" fill="#6ca943" fill-opacity=".75"/></svg></div>
<div class="t" style="left:1093.7px;top:427.1px"><b>Checkpoint</b><span>Thematisches Link Tracking</span></div>
<div class="ib" style="left:356.0px;top:708.6px;width:36.0px;height:37.1px;border-color:#82b2e4"><svg style="top:0.45px;left:-0.10px" viewBox="0 0 34 34"><rect x="5.9" y="6.8" width="22.4" height="20.7" rx="1.8" fill="#2b7bc9"/><rect x="8.5" y="10.4" width="17.6" height="4.2" rx=".8" fill="#fff"/><rect x="10.8" y="11.6" width="2.6" height="1.8" rx=".6" fill="#2b7bc9"/><rect x="16.1" y="11.6" width="2.6" height="1.8" rx=".6" fill="#2b7bc9"/><rect x="21.4" y="11.6" width="2.6" height="1.8" rx=".6" fill="#2b7bc9"/><rect x="8.2" y="18" width="8.4" height="7.4" fill="#fff"/><g stroke="#2b7bc9" stroke-opacity=".75"><path d="M8.2 20.4H16.6M8.2 22.8H16.6" stroke-width="1"/><path d="M11 18V25.4M13.8 18V25.4" stroke-width=".8"/></g><rect x="19.1" y="18" width="7" height="6.6" rx=".6" fill="#fff"/><path d="M21.4 19.7V23L24.6 21.3Z" fill="#2b7bc9"/></svg></div>
<div class="t" style="left:398.7px;top:707.7px"><b>Artikel</b><span>Artikel</span></div>
<div class="ib" style="left:356.0px;top:792.9px;width:36.0px;height:35.9px;border-color:#82b2e4"><svg style="top:-0.15px;left:-0.10px" viewBox="0 0 34 34"><path d="M20 11.2H26.6Q28.3 11.2 28.3 12.9V24" fill="none" stroke="#2b7bc9" stroke-opacity=".7" stroke-width="1.3"/><circle cx="23.1" cy="16.2" r="1.8" fill="#2b7bc9"/><path d="M7.6 23.4L12 20.8L15.6 18.4L17.2 19.2L18.8 18.2L21.4 19.6L27.6 23.6Q28.4 24 28.4 25V27.2Q28.4 28.8 26.8 28.8H9.2Q7.6 28.8 7.6 27.2Z" fill="#2b7bc9"/><g fill="none" stroke="#2b7bc9" stroke-width="2.2"><path d="M6.65 10.86A4.4 4.4 0 0 1 14.50 9.48"/><path d="M15.15 13.14A4.4 4.4 0 0 1 7.30 14.52"/></g><path d="M16.76 7.90L12.25 11.05L16.87 12.86Z" fill="#2b7bc9"/><path d="M5.04 16.10L9.55 12.95L4.93 11.14Z" fill="#2b7bc9"/></svg></div>
<div class="t" style="left:398.7px;top:792.0px"><b>Dynamisches Bild</b><span>Personalisierbare SVG-Bilder</span></div>
<div class="ib" style="left:356.0px;top:875.9px;width:36.0px;height:36.9px;border-color:#82b2e4"><svg style="top:0.35px;left:-0.10px" viewBox="0 0 34 34"><path d="M5.8 18.4L9 10.8Q9.8 9 11.6 9H22.4Q24.2 9 25 10.8L28.4 18.4V24Q28.4 26.4 26 26.4H8.2Q5.8 26.4 5.8 24Z" fill="#fff" stroke="#2b7bc9" stroke-opacity=".85" stroke-width="1.9" stroke-linejoin="round"/><path d="M6.2 17.2H11.8Q12.8 17.2 13.2 18.2Q14.4 20.8 17.1 20.8Q19.8 20.8 21 18.2Q21.4 17.2 22.4 17.2H28" fill="none" stroke="#2b7bc9" stroke-opacity=".85" stroke-width="1.9" stroke-linejoin="round"/></svg></div>
<div class="t" style="left:398.7px;top:875.0px"><b>Container</b><span>Container</span></div>
<div class="ib" style="left:356.0px;top:958.2px;width:36.0px;height:37.5px;border-color:#82b2e4"><svg style="top:0.65px;left:-0.10px" viewBox="0 0 34 34"><path d="M6.9 6.1H23.3Q24.9 6.1 24.9 7.7V16.6H18.2V24.2H6.9Q5.3 24.2 5.3 22.6V7.7Q5.3 6.1 6.9 6.1Z" fill="#2b7bc9"/><rect x="7.7" y="9" width="14.8" height="4.2" rx=".8" fill="#fff"/><rect x="9.5" y="10.1" width="2.4" height="2" rx=".5" fill="#2b7bc9"/><rect x="14.1" y="10.1" width="2.4" height="2" rx=".5" fill="#2b7bc9"/><rect x="18.7" y="10.1" width="2.4" height="2" rx=".5" fill="#2b7bc9"/><rect x="9.9" y="17.8" width="5" height="4" fill="#fff" fill-opacity=".55"/><g stroke="#fff" stroke-opacity=".5" stroke-width=".8"><path d="M7.1 20.2H9.7M7.1 22.6H9.7"/></g><rect x="18.8" y="18.4" width="3" height="1.7" fill="#2b7bc9"/><path d="M22.7 18.2H24.5V23.2H28.6L23.6 27.8L18.6 23.2H22.7Z" fill="#2b7bc9"/></svg></div>
<div class="t" style="left:398.7px;top:957.3px"><b>Artikel-Export</b><span>News-Export</span></div>
<div class="ib" style="left:356.0px;top:1042.4px;width:36.0px;height:37.2px;border-color:#fadc4e"><svg style="top:0.50px;left:-0.10px" viewBox="0 0 34 34"><path d="M12.4 9.1H23.6Q25.2 9.1 25.2 10.7V18.9Q25.2 20.5 23.6 20.5H18.4L14.6 25V20.5H12.4Q10.8 20.5 10.8 18.9V10.7Q10.8 9.1 12.4 9.1Z" fill="#f7d000"/></svg></div>
<div class="t" style="left:398.7px;top:1041.5px"><b>Notiz</b><span>Dokumentation und Notiz</span></div>
<div class="ib" style="left:587.4px;top:708.6px;width:37.5px;height:37.1px;border-color:#82b2e4"><svg style="top:0.45px;left:0.65px" viewBox="0 0 34 34"><rect x="5.9" y="7.9" width="22.9" height="18.8" rx="2" fill="#fff" stroke="#2b7bc9" stroke-width="1.7"/><path d="M6.5 23.316L14.144 15.42L15.06 15.42L19.182 19.18L20.8995 18.24L21.93 18.24L28.2 22.94V25.9H6.5Z" fill="#2b7bc9" stroke="#2b7bc9" stroke-width=".8" stroke-linejoin="round"/><circle cx="23.304" cy="13.352" r="2.632" fill="#2b7bc9"/></svg></div>
<div class="t" style="left:630.1px;top:707.7px"><b>Bild</b><span>Bild für News und Artikel</span></div>
<div class="ib" style="left:587.4px;top:792.9px;width:37.5px;height:35.9px;border-color:#82b2e4"><svg style="top:-0.15px;left:0.65px" viewBox="0 0 34 34"><path d="M10.4 4.7H20.3L26.7 10.6V27Q26.7 29.9 23.8 29.9H10.4Q7.5 29.9 7.5 27V7.6Q7.5 4.7 10.4 4.7Z" fill="#fff" stroke="#2b7bc9" stroke-opacity=".8" stroke-width="2" stroke-linejoin="round"/><path d="M20 5V8.4Q20 10.8 22.4 10.8H26.2" fill="none" stroke="#2b7bc9" stroke-opacity=".8" stroke-width="1.7"/><g stroke="#2b7bc9" stroke-opacity=".8"><path d="M12.6 16.4H22M12.6 22.6H22" stroke-width="1.3"/><path d="M12.6 19.5H22" stroke-width="2"/></g></svg></div>
<div class="t" style="left:630.1px;top:792.0px"><b>Datei</b><span>Dateien und Dokumente zum<br>Download</span></div>
<div class="ib" style="left:587.4px;top:875.9px;width:37.5px;height:36.9px;border-color:#82b2e4"><svg style="top:0.35px;left:0.65px" viewBox="0 0 34 34"><path d="M6.7 5.8H24.1Q25.7 5.8 25.7 7.4V14.9H16.9V24.5H6.7Q5.1 24.5 5.1 22.9V7.4Q5.1 5.8 6.7 5.8Z" fill="#2b7bc9"/><rect x="7.5" y="8.7" width="15.8" height="4.2" rx=".8" fill="#fff"/><rect x="9.3" y="9.8" width="2.4" height="2" rx=".5" fill="#2b7bc9"/><rect x="13.9" y="9.8" width="2.4" height="2" rx=".5" fill="#2b7bc9"/><rect x="18.5" y="9.8" width="2.4" height="2" rx=".5" fill="#2b7bc9"/><rect x="9.7" y="16.1" width="5" height="6" fill="#fff" fill-opacity=".55"/><g stroke="#fff" stroke-opacity=".5" stroke-width=".8"><path d="M6.9 18.5H9.5M6.9 20.9H9.5"/></g><rect x="17.8" y="17" width="2" height="1.6" fill="#2b7bc9" fill-opacity=".6"/><path d="M23.5 18.3L27.8 22.4H24.15V28.2H22.85V22.4H19.2Z" fill="#2b7bc9" stroke="#2b7bc9" stroke-width=".5" stroke-linejoin="round"/></svg></div>
<div class="t" style="left:630.1px;top:875.0px"><b>Artikel-Import</b><span>News-Import</span></div>
<div class="ib" style="left:587.4px;top:958.2px;width:37.5px;height:37.5px;border-color:#82b2e4"><svg style="top:0.65px;left:0.65px" viewBox="0 0 34 34"><g fill="none" stroke="#2b7bc9" stroke-width="2.2" stroke-linejoin="round"><rect x="6.6" y="6.7" width="8.3" height="8"/><rect x="19.5" y="6.7" width="8.3" height="8"/><rect x="6.6" y="19.8" width="8.3" height="8"/></g><g fill="#2b7bc9"><rect x="9.7" y="9.7" width="2.1" height="2" /><rect x="22.6" y="9.7" width="2.1" height="2" /><rect x="9.7" y="22.8" width="2.1" height="2" /><path d="M18.6 18.9H23.4V20.6L25.4 18.9H28.4V23.6H25.2V22.4H20.4V28.9H18.6Z"/><rect x="22.6" y="26.6" width="1.9" height="1.9" fill-opacity=".8"/><rect x="26.6" y="26.6" width="1.9" height="1.9" fill-opacity=".8"/></g></svg></div>
<div class="t" style="left:630.1px;top:957.3px"><b>QR-Code</b><span>Personalierbare QR-Codes</span></div>
<div class="ib" style="left:819.0px;top:708.6px;width:37.8px;height:37.1px;border-color:#a6a6a6"><svg style="top:0.45px;left:0.80px" viewBox="0 0 34 34"><rect x="3.9" y="5" width="22.6" height="18.5" rx="2" fill="#7d7d7d"/><path d="M6.16 8.7L15.2 15.73L24.24 8.7" fill="none" stroke="#fff" stroke-width="2" stroke-linecap="round"/><circle cx="24.9" cy="22.6" r="7.2" fill="#fff"/><path fill-rule="evenodd" fill="#666" stroke="#666" stroke-width=".8" stroke-linejoin="round" d="M26.09 28.18 L23.71 28.18 L23.67 26.39 L22.23 25.57 L20.66 26.41 L19.48 24.36 L21.00 23.43 L21.00 21.77 L19.48 20.84 L20.66 18.79 L22.23 19.63 L23.67 18.81 L23.71 17.02 L26.09 17.02 L26.13 18.81 L27.57 19.63 L29.14 18.79 L30.32 20.84 L28.80 21.77 L28.80 23.43 L30.32 24.36 L29.14 26.41 L27.57 25.57 L26.13 26.39 Z M22.80 22.60 a2.10 2.10 0 1 0 4.20 0 a2.10 2.10 0 1 0 -4.20 0 Z"/></svg></div>
<div class="t" style="left:861.7px;top:707.7px"><b>eMailing-Vorlage</b><span>Vorlage für die Darstellung</span></div>
<div class="ib" style="left:819.0px;top:792.9px;width:37.8px;height:35.9px;border-color:#a6a6a6"><svg style="top:-0.15px;left:0.80px" viewBox="0 0 34 34"><rect x="5.7" y="6.1" width="19.3" height="16.9" rx="1.8" fill="#858585"/><rect x="7.5" y="8.6" width="16" height="4" rx="1" fill="#e4e4e4"/><rect x="10" y="9.3" width="1.9" height="2.6" rx=".8" fill="#777"/><rect x="14.7" y="9.3" width="1.9" height="2.6" rx=".8" fill="#777"/><rect x="19.4" y="9.3" width="1.9" height="2.6" rx=".8" fill="#777"/><rect x="7.5" y="14.4" width="15.6" height="6.8" fill="#bdbdbd" fill-opacity=".75"/><rect x="7.5" y="14.4" width="4" height="6.8" fill="#858585" fill-opacity=".35"/><circle cx="22.3" cy="22.2" r="8" fill="#fff"/><path fill-rule="evenodd" fill="#ea5b0c" stroke="#ea5b0c" stroke-width=".8" stroke-linejoin="round" d="M23.59 28.26 L21.01 28.26 L20.96 26.33 L19.40 25.43 L17.69 26.35 L16.40 24.12 L18.05 23.10 L18.05 21.30 L16.40 20.28 L17.69 18.05 L19.40 18.97 L20.96 18.07 L21.01 16.14 L23.59 16.14 L23.64 18.07 L25.20 18.97 L26.91 18.05 L28.20 20.28 L26.55 21.30 L26.55 23.10 L28.20 24.12 L26.91 26.35 L25.20 25.43 L23.64 26.33 Z M20.00 22.20 a2.30 2.30 0 1 0 4.60 0 a2.30 2.30 0 1 0 -4.60 0 Z"/></svg></div>
<div class="t" style="left:861.7px;top:792.0px"><b>Artikel-Vorlage<br>(eMail/HTML)</b><span>Vorlage für die Darstellung</span></div>
<div class="ib" style="left:819.0px;top:875.9px;width:37.8px;height:36.9px;border-color:#a6a6a6"><svg style="top:0.35px;left:0.80px" viewBox="0 0 34 34"><rect x="5.7" y="6.1" width="19.3" height="16.9" rx="1.8" fill="#858585"/><rect x="7.5" y="8.6" width="16" height="4" rx="1" fill="#e4e4e4"/><rect x="10" y="9.3" width="1.9" height="2.6" rx=".8" fill="#777"/><rect x="14.7" y="9.3" width="1.9" height="2.6" rx=".8" fill="#777"/><rect x="19.4" y="9.3" width="1.9" height="2.6" rx=".8" fill="#777"/><rect x="7.5" y="14.4" width="15.6" height="6.8" fill="#bdbdbd" fill-opacity=".75"/><rect x="7.5" y="14.4" width="4" height="6.8" fill="#858585" fill-opacity=".35"/><circle cx="22.3" cy="22.2" r="8" fill="#fff"/><path fill-rule="evenodd" fill="#62a63a" stroke="#62a63a" stroke-width=".8" stroke-linejoin="round" d="M23.59 28.26 L21.01 28.26 L20.96 26.33 L19.40 25.43 L17.69 26.35 L16.40 24.12 L18.05 23.10 L18.05 21.30 L16.40 20.28 L17.69 18.05 L19.40 18.97 L20.96 18.07 L21.01 16.14 L23.59 16.14 L23.64 18.07 L25.20 18.97 L26.91 18.05 L28.20 20.28 L26.55 21.30 L26.55 23.10 L28.20 24.12 L26.91 26.35 L25.20 25.43 L23.64 26.33 Z M20.00 22.20 a2.30 2.30 0 1 0 4.60 0 a2.30 2.30 0 1 0 -4.60 0 Z"/></svg></div>
<div class="t" style="left:861.7px;top:875.0px"><b>Artikel-Vorlage<br>(eMail/Text)</b><span>Vorlage für die Darstellung</span></div>
<div class="ib" style="left:1051.0px;top:708.6px;width:36.9px;height:37.1px;border-color:#a6a6a6"><svg style="top:0.45px;left:0.35px" viewBox="0 0 34 34"><g stroke="#b4b4b4" stroke-width="1.8" stroke-linecap="round" fill="none"><path d="M5.4 10.7H14.6M5.4 17.3H17.8M5.4 24.4H16.6"/></g><circle cx="23.65" cy="11.1" r="5.5" fill="#fff" stroke="#777" stroke-width="1.1" stroke-opacity="0.7"/><path d="M19.58 7.80 21.67 6.15 23.10 6.48 22.33 8.02 23.54 8.57 22.11 9.34 22.77 10.33 21.78 10.11 21.56 11.21 20.68 10.44 20.13 11.65 19.47 9.78 Z" fill="#777"/><path d="M22.33 12.42 24.09 12.09 26.18 13.41 25.08 14.62 24.53 16.27 23.65 16.49 23.43 14.62 22.33 13.63 Z" fill="#777"/><path d="M25.96 6.37 27.83 7.80 28.82 9.78 28.93 11.98 28.05 13.52 27.17 11.87 26.95 9.67 26.18 8.35 Z" fill="#777"/><path fill-rule="evenodd" fill="#555" stroke="#555" stroke-width=".8" stroke-linejoin="round" d="M24.96 29.19 L22.84 29.19 L22.80 27.60 L21.51 26.85 L20.11 27.61 L19.05 25.78 L20.41 24.94 L20.41 23.46 L19.05 22.62 L20.11 20.79 L21.51 21.55 L22.80 20.80 L22.84 19.21 L24.96 19.21 L25.00 20.80 L26.29 21.55 L27.69 20.79 L28.75 22.62 L27.39 23.46 L27.39 24.94 L28.75 25.78 L27.69 27.61 L26.29 26.85 L25.00 27.60 Z M22.00 24.20 a1.90 1.90 0 1 0 3.80 0 a1.90 1.90 0 1 0 -3.80 0 Z"/></svg></div>
<div class="t" style="left:1093.7px;top:707.7px"><b>LeadPage-Vorlage</b><span>Vorlage für die Darstellung</span></div>
<div class="ib" style="left:1051.0px;top:792.9px;width:36.9px;height:35.9px;border-color:#a6a6a6"><svg style="top:-0.15px;left:0.35px" viewBox="0 0 34 34"><rect x="5.7" y="6.1" width="19.3" height="16.9" rx="1.8" fill="#858585"/><rect x="7.5" y="8.6" width="16" height="4" rx="1" fill="#e4e4e4"/><rect x="10" y="9.3" width="1.9" height="2.6" rx=".8" fill="#777"/><rect x="14.7" y="9.3" width="1.9" height="2.6" rx=".8" fill="#777"/><rect x="19.4" y="9.3" width="1.9" height="2.6" rx=".8" fill="#777"/><rect x="7.5" y="14.4" width="15.6" height="6.8" fill="#bdbdbd" fill-opacity=".75"/><rect x="7.5" y="14.4" width="4" height="6.8" fill="#858585" fill-opacity=".35"/><circle cx="22.3" cy="22.2" r="8" fill="#fff"/><path fill-rule="evenodd" fill="#3684d6" stroke="#3684d6" stroke-width=".8" stroke-linejoin="round" d="M23.59 28.26 L21.01 28.26 L20.96 26.33 L19.40 25.43 L17.69 26.35 L16.40 24.12 L18.05 23.10 L18.05 21.30 L16.40 20.28 L17.69 18.05 L19.40 18.97 L20.96 18.07 L21.01 16.14 L23.59 16.14 L23.64 18.07 L25.20 18.97 L26.91 18.05 L28.20 20.28 L26.55 21.30 L26.55 23.10 L28.20 24.12 L26.91 26.35 L25.20 25.43 L23.64 26.33 Z M20.00 22.20 a2.30 2.30 0 1 0 4.60 0 a2.30 2.30 0 1 0 -4.60 0 Z"/></svg></div>
<div class="t" style="left:1093.7px;top:792.0px"><b>Artikel-Vorlage<br>(Web/HTML)</b><span>Vorlage für die Darstellung</span></div>
<div class="ib" style="left:1051.0px;top:875.9px;width:36.9px;height:36.9px;border-color:#a6a6a6"><svg style="top:0.35px;left:0.35px" viewBox="0 0 34 34"><rect x="5.7" y="6.1" width="19.3" height="16.9" rx="1.8" fill="#858585"/><rect x="7.5" y="8.6" width="16" height="4" rx="1" fill="#e4e4e4"/><rect x="10" y="9.3" width="1.9" height="2.6" rx=".8" fill="#777"/><rect x="14.7" y="9.3" width="1.9" height="2.6" rx=".8" fill="#777"/><rect x="19.4" y="9.3" width="1.9" height="2.6" rx=".8" fill="#777"/><rect x="7.5" y="14.4" width="15.6" height="6.8" fill="#bdbdbd" fill-opacity=".75"/><rect x="7.5" y="14.4" width="4" height="6.8" fill="#858585" fill-opacity=".35"/><circle cx="22.3" cy="22.2" r="8" fill="#fff"/><path fill-rule="evenodd" fill="#5d5d5d" stroke="#5d5d5d" stroke-width=".8" stroke-linejoin="round" d="M23.59 28.26 L21.01 28.26 L20.96 26.33 L19.40 25.43 L17.69 26.35 L16.40 24.12 L18.05 23.10 L18.05 21.30 L16.40 20.28 L17.69 18.05 L19.40 18.97 L20.96 18.07 L21.01 16.14 L23.59 16.14 L23.64 18.07 L25.20 18.97 L26.91 18.05 L28.20 20.28 L26.55 21.30 L26.55 23.10 L28.20 24.12 L26.91 26.35 L25.20 25.43 L23.64 26.33 Z M20.00 22.20 a2.30 2.30 0 1 0 4.60 0 a2.30 2.30 0 1 0 -4.60 0 Z"/></svg></div>
<div class="t" style="left:1093.7px;top:875.0px"><b>Artikel-Vorlage (PDF/FO)</b><span>Vorlage für die Darstellung</span></div>
<svg class="abs" style="left:0;top:0;z-index:40" width="1400" height="1166" viewBox="0 0 1400 1166"><path d="M251.2 708 V660 A19 19 0 0 1 270.2 640.8 H906 A18.5 18.5 0 0 1 924.5 659.3 V690" fill="none" stroke="#4f81dd" stroke-width="2"/><path d="M920.1 687.6 H928.9 L924.5 699.4 Z" fill="#4f81dd"/></svg>
<svg class="abs" style="left:0;top:0;z-index:50" width="1400" height="1166" viewBox="0 0 1400 1166"><path d="M0 0H1400V1166H0Z M1.6 1.5V1164.5H1398.5V1.5Z" fill="#c5d1da" fill-rule="evenodd"/></svg>
</body></html>
